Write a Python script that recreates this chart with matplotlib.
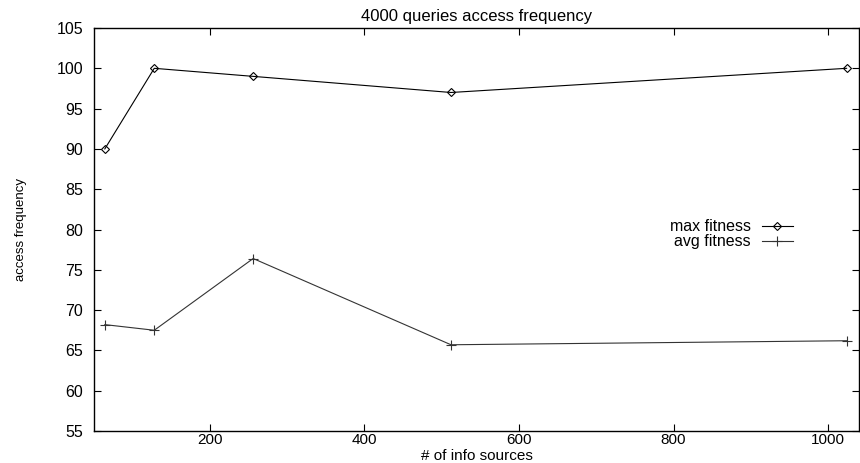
import matplotlib
matplotlib.use('Agg')
import matplotlib.pyplot as plt

plt.rcParams['font.family'] = ['Liberation Sans', 'DejaVu Sans']

# dane
sources = [64, 128, 256, 512, 1024]
max_fitness = [90, 100, 99, 97, 100]
avg_fitness = [68.2, 67.5, 76.4, 65.7, 66.2]

fig = plt.figure(figsize=(8.6, 4.63), dpi=100)
ax = fig.add_axes([0.1093, 0.0691, 0.8895, 0.8704])

ax.plot(sources, max_fitness, color='black', linewidth=0.8, marker='D',
        markersize=4, markerfacecolor='none', markeredgewidth=0.8, label='max fitness')
ax.plot(sources, avg_fitness, color='#333333', linewidth=0.8, marker='+',
        markersize=7, markeredgewidth=0.8, label='avg fitness')

ax.set_xlim(50, 1040)
ax.set_ylim(55, 105)
ax.set_xticks([200, 400, 600, 800, 1000])
ax.set_yticks(range(55, 106, 5))
ax.tick_params(direction='in', top=True, right=True, labelsize=11.5, length=5, width=0.8)
ax.tick_params(axis='y', pad=8)
ax.tick_params(axis='x', pad=1.5, labelsize=11)
for s in ax.spines.values():
    s.set_linewidth(1.0)

ax.set_title('4000 queries access frequency', fontsize=12, pad=5)
ax.set_xlabel('# of info sources', fontsize=11)
ax.xaxis.set_label_coords(0.5, -0.045)
ax.set_ylabel('access frequency', fontsize=9.5)
ax.yaxis.set_label_coords(-0.088, 0.5)

ax.legend(loc='center right', bbox_to_anchor=(0.932, 0.488), frameon=False,
          markerfirst=False, fontsize=11.5, handlelength=1.9, labelspacing=0.0,
          handletextpad=0.7)

plt.savefig('out.png', dpi=100)
